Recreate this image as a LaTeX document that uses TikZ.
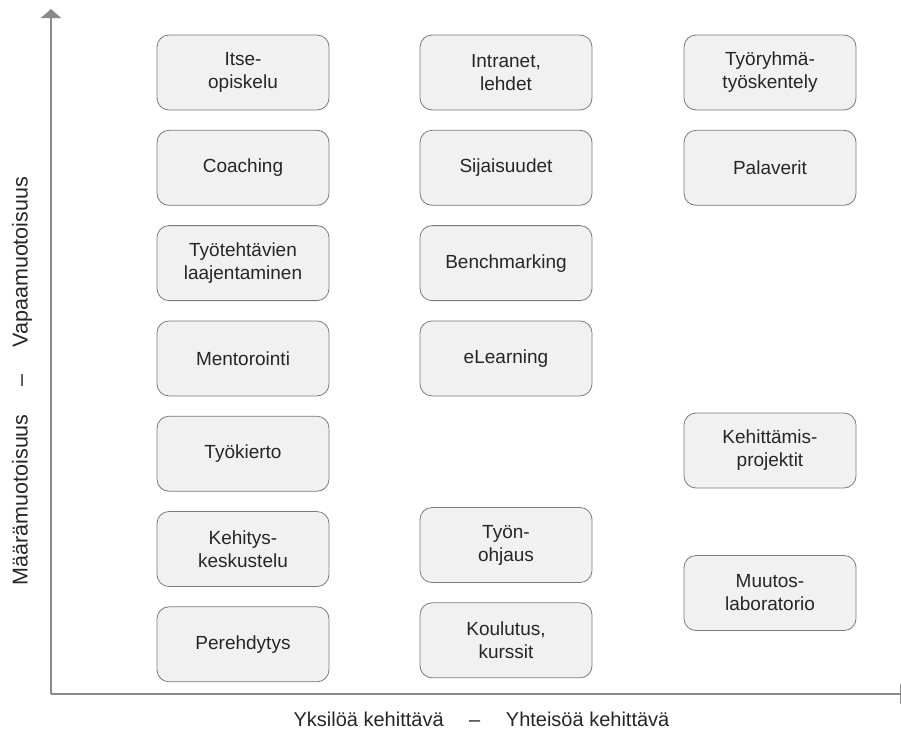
\documentclass[tikz,border=0pt]{standalone}
\usepackage{fontspec}
\setmainfont{Liberation Sans}
\usepackage{tikz}
\usetikzlibrary{arrows.meta,positioning}
\usepackage{xcolor}

\definecolor{axisgray}{HTML}{8A8A8A}
\definecolor{boxfill}{HTML}{F1F1F1}
\definecolor{boxline}{HTML}{7A7A7A}
\definecolor{textdark}{HTML}{262626}

\begin{document}
\begin{tikzpicture}[x=1pt, y=-1pt,
  every node/.style={text=textdark},
  method/.style={draw=boxline, fill=boxfill, line width=0.8pt,
    rounded corners=12pt, minimum width=172pt, minimum height=75pt,
    align=center, inner sep=2pt, font=\fontsize{19}{23}\selectfont},
  axisline/.style={draw=axisgray, line width=2pt,
    -{Triangle[width=20pt,length=9pt]}},
  axislabel/.style={font=\fontsize{21.5}{25}\selectfont}]

\useasboundingbox (0,0) rectangle (901,734);

% ---- axes ------------------------------------------------------------------
\coordinate (origin) at (51,694);
\coordinate (ytop)   at (51,9);
\coordinate (xend)   at (909,694);
\draw[axisline] (origin) -- (ytop);
\draw[axisline] (origin) -- (xend);

\node[axislabel, rotate=90] (ylabel) at (22,381)
  {Määrämuotoisuus \quad -- \quad Vapaamuotoisuus};
\node[axislabel, font=\fontsize{20}{24}\selectfont] (xlabel) at (481.5,719)
  {Yksilöä kehittävä \quad -- \quad Yhteisöä kehittävä};

% ---- individual (left column) ----------------------------------------------
\node[method] (itse) at (243,72.5) {Itse-\\opiskelu};
\node[method, below=19.5pt of itse] (coaching) {Coaching};
\node[method, below=19.5pt of coaching] (tyotehtavat) {Työtehtävien\\laajentaminen};
\node[method, below=19.5pt of tyotehtavat] (mentorointi) {Mentorointi};
\node[method, below=19.5pt of mentorointi] (tyokierto) {Työkierto};
\node[method, below=19.5pt of tyokierto] (kehitys) {Kehitys-\\keskustelu};
\node[method, below=19.5pt of kehitys] (perehdytys) {Perehdytys};

% ---- middle column ---------------------------------------------------------
\node[method] (intranet) at (506,72.5) {Intranet,\\lehdet};
\node[method, below=19.5pt of intranet] (sijaisuudet) {Sijaisuudet};
\node[method, below=19.5pt of sijaisuudet] (benchmarking) {Benchmarking};
\node[method, below=19.5pt of benchmarking] (elearning) {eLearning};
\node[method] (tyonohjaus) at (506,545) {Työn-\\ohjaus};
\node[method, below=19.5pt of tyonohjaus] (koulutus) {Koulutus,\\kurssit};

% ---- community (right column) ----------------------------------------------
\node[method] (tyoryhma) at (770,72.5) {Työryhmä-\\työskentely};
\node[method, below=19.5pt of tyoryhma] (palaverit) {Palaverit};
\node[method] (kehittamis) at (770,450.5) {Kehittämis-\\projektit};
\node[method] (muutos) at (770,593) {Muutos-\\laboratorio};

\end{tikzpicture}
\end{document}
